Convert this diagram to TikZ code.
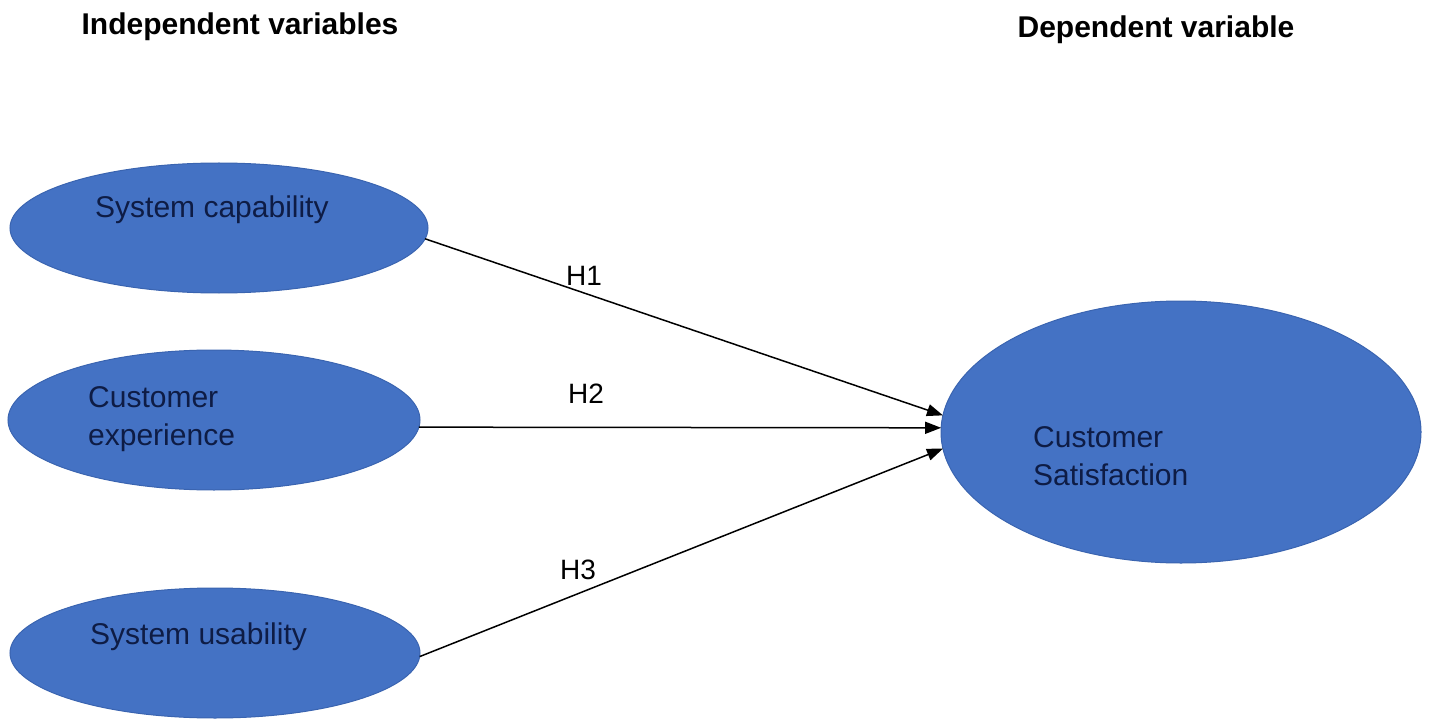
\documentclass[tikz,border=0pt]{standalone}
\usepackage{fontspec}
\setmainfont{Liberation Sans}
\usetikzlibrary{shapes.geometric,arrows.meta}
\definecolor{ellfill}{HTML}{4472C4}
\definecolor{ellline}{HTML}{3A64B0}
\definecolor{navytext}{HTML}{0E1C45}
\tikzset{
  var/.style={ellipse, fill=ellfill, draw=ellline, line width=1pt, inner sep=0pt, outer sep=0pt},
  vtext/.style={anchor=west, text=navytext, font=\fontsize{30}{38}\selectfont, align=left, inner sep=0pt},
  head/.style={font=\fontsize{30}{36}\selectfont\bfseries, text=black, inner sep=0pt},
  hyp/.style={font=\fontsize{28}{34}\selectfont, text=black, inner sep=0pt},
  link/.style={draw=black, line width=1.5pt, -{Triangle[length=16pt,width=12pt]}}
}
\begin{document}
\begin{tikzpicture}[x=1pt,y=-1pt]
\useasboundingbox (0,0) rectangle (1429,719);
\node[head] (hind) at (240,27) {Independent variables};
\node[head] (hdep) at (1156,30) {Dependent variable};

\node[var, minimum width=418pt, minimum height=130pt] (sc) at (219,228) {};
\node[var, minimum width=412pt, minimum height=140pt] (ce) at (214,420) {};
\node[var, minimum width=410pt, minimum height=130pt] (su) at (215,653) {};
\node[var, minimum width=480pt, minimum height=262pt] (cs) at (1181,432) {};

\node[vtext] (tsc) at (95,210) {System capability};
\node[vtext] (tce) at (88,419) {Customer\\experience};
\node[vtext] (tsu) at (90,637) {System usability};
\node[vtext] (tcs) at (1033,456) {Customer\\Satisfaction};

\draw[link] (sc.-3.3) -- (cs.176.7);
\draw[link] (ce.-2.1) -- (cs.179.5);
\draw[link] (su.-1.1) -- (cs.-176.4);

\node[hyp] (h1) at (584,276) {H1};
\node[hyp] (h2) at (586,394) {H2};
\node[hyp] (h3) at (578,570) {H3};
\end{tikzpicture}
\end{document}
